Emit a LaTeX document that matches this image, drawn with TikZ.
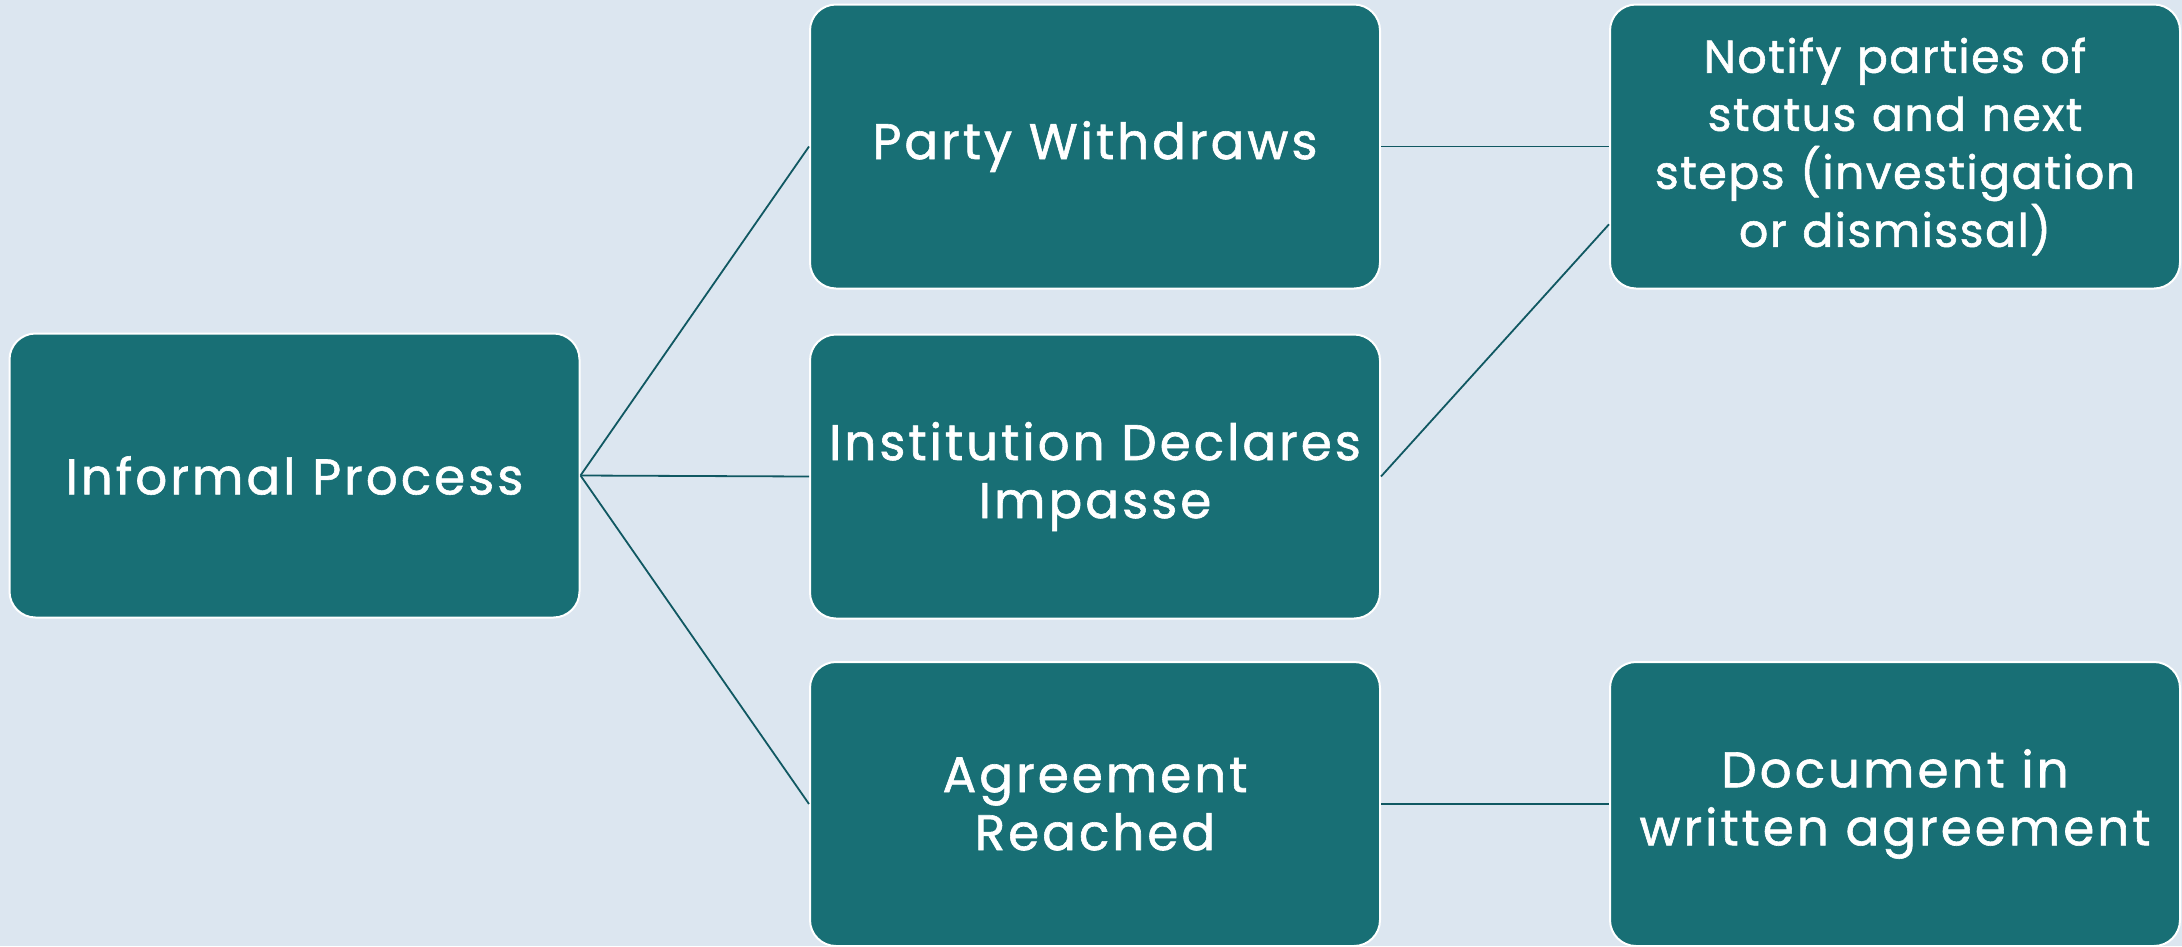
\documentclass[tikz,border=0pt]{standalone}
\usepackage{fontspec}
\setmainfont{Poppins}[LetterSpace=6,FakeBold=1.2]
\newfontfamily\notifyfont{Poppins}[LetterSpace=3,FakeBold=1.2]
\usetikzlibrary{calc}
\definecolor{bgcol}{RGB}{220,230,240}
\definecolor{boxfill}{RGB}{24,111,117}
\definecolor{linecol}{RGB}{16,88,98}
\tikzset{
  box/.style={draw=white, line width=2pt, fill=boxfill, rounded corners=26pt,
    text=white, align=center, minimum width=570pt, minimum height=284pt,
    inner sep=0pt, text width=560pt, font=\fontsize{50}{58}\selectfont},
  conn/.style={draw=linecol, line width=1.8pt}
}
\begin{document}
\begin{tikzpicture}[x=1pt,y=-1pt]
\fill[bgcol] (0,0) rectangle (2182,946);
\useasboundingbox (0,0) rectangle (2182,946);
\node[box] (informal) at (294.5,475.5) {Informal Process};
\node[box] (party) at (1095,146.5) {Party Withdraws};
\node[box] (inst) at (1095,476.5) {Institution Declares\\Impasse};
\node[box] (agree) at (1095,804) {Agreement\\Reached};
\node[box, font=\notifyfont\fontsize{46}{58}\selectfont] (notify) at (1895,146.5) {Notify parties of\\status and next\\steps (investigation\\or dismissal)};
\node[box] (doc) at (1895,804) {Document in\\written agreement};
\coordinate (nin) at ($(notify.north west)!0.772!(notify.south west)$);
\draw[conn] (informal.east) -- (party.west);
\draw[conn] (informal.east) -- (inst.west);
\draw[conn] (informal.east) -- (agree.west);
\draw[conn] (party.east) -- (notify.west);
\draw[conn] (inst.east) -- (nin);
\draw[conn] (agree.east) -- (doc.west);
\end{tikzpicture}
\end{document}
